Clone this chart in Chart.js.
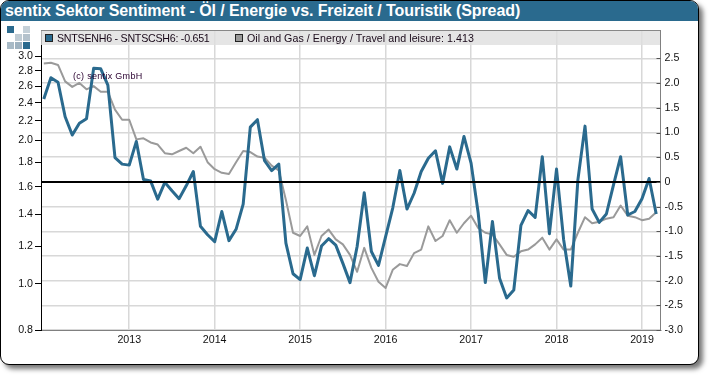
<!DOCTYPE html>
<html>
<head>
<meta charset="utf-8">
<title>sentix Sektor Sentiment</title>
<script src="https://cdn.jsdelivr.net/npm/chart.js@4"></script>
<style>
  html, body { margin: 0; padding: 0; background: #fff; }
  body { width: 710px; height: 376px; position: relative; overflow: hidden; font-family: "Liberation Sans", Arial, sans-serif; }
  #card {
    position: absolute; left: 0; top: 0; width: 696.5px; height: 362.5px;
    border: 1.5px solid #000; border-radius: 9px; background: #fff;
    box-shadow: 4px 4px 5px #777; overflow: hidden;
  }
  #head {
    height: 20px; line-height: 20px; background: #2a6a8e; color: #fff;
    font-weight: bold; font-size: 16px; padding-left: 4px; white-space: nowrap; letter-spacing: -0.09px;
  }
  canvas { position: absolute; left: 0; top: 0; display: block; }
  #legend {
    position: absolute; left: 41px; top: 30px; width: 619px; height: 14px;
    border-top: 1px solid #888; background: rgba(222, 222, 222, 0.8);
    font-size: 10.67px; line-height: 15px; color: #1a0a1a; white-space: nowrap;
  }
  #legend span { position: absolute; top: 0; }
  #legend i { position: absolute; top: 3px; width: 6px; height: 6px; border: 1px solid #222; }
  #mark { position: absolute; left: 73px; top: 71px; font-size: 9px; letter-spacing: 0.3px; color: #2a0030; white-space: pre; }
  .sq { position: absolute; width: 7px; height: 7px; }
</style>
</head>
<body>
<div id="card"><div id="head">sentix Sektor Sentiment - Öl / Energie vs. Freizeit / Touristik (Spread)</div></div>
<div class="sq" style="left:7px;top:26px;background:#2a6a8e"></div>
<div class="sq" style="left:23px;top:26px;background:#c4d0d8"></div>
<div class="sq" style="left:15px;top:34px;background:#c0ccd4"></div>
<div class="sq" style="left:23px;top:34px;background:#b4c2cc"></div>
<div class="sq" style="left:7px;top:42px;background:#a8bac6"></div>
<div class="sq" style="left:15px;top:42px;background:#9eb2c0"></div>
<div class="sq" style="left:23px;top:42px;background:#2a6a8e"></div>
<canvas id="chart" width="710" height="376"></canvas>
<div id="legend">
  <i style="left:4px;background:#2a6a8e"></i><span style="left:16px;letter-spacing:-0.25px">SNTSENH6 - SNTSCSH6: -0.651</span>
  <i style="left:194px;background:#999"></i><span style="left:206px;letter-spacing:0.05px">Oil and Gas / Energy / Travel and leisure: 1.413</span>
</div>
<div id="mark">(c) sentix GmbH</div>

<script>
// monthly readings, Jan 2012 to Mar 2019
const spread = [
  1.68, 2.11, 2.02, 1.32, 0.95, 1.19, 1.28, 2.30, 2.29, 1.96, 0.49, 0.36,
  0.34, 0.82, 0.05, 0.02, -0.35, -0.01, -0.18, -0.34, -0.08, 0.21, -0.90, -1.07,
  -1.21, -0.60, -1.19, -0.96, -0.45, 1.11, 1.26, 0.43, 0.23, 0.36, -1.24, -1.86,
  -1.98, -1.34, -1.90, -1.30, -1.15, -1.28, -1.65, -2.04, -1.31, -0.22, -1.41, -1.69,
  -1.11, -0.53, 0.23, -0.55, -0.23, 0.21, 0.48, 0.63, -0.03, 0.71, 0.26, 0.92,
  0.38, -0.63, -2.04, -0.80, -1.95, -2.35, -2.19, -0.88, -0.58, -0.72, 0.51, -1.05,
  0.26, -1.17, -2.11, 0.04, 1.13, -0.55, -0.82, -0.65, -0.06, 0.51, -0.67, -0.60,
  -0.34, 0.07, -0.651
];
const ratio = [
  2.90, 2.91, 2.88, 2.66, 2.59, 2.64, 2.56, 2.60, 2.53, 2.53, 2.32, 2.21,
  2.21, 2.01, 2.02, 1.98, 1.96, 1.88, 1.87, 1.90, 1.93, 1.88, 1.94, 1.80,
  1.74, 1.71, 1.70, 1.80, 1.90, 1.89, 1.85, 1.84, 1.77, 1.73, 1.50, 1.28,
  1.26, 1.32, 1.15, 1.26, 1.30, 1.24, 1.21, 1.15, 1.06, 1.19, 1.08, 1.01,
  0.98, 1.07, 1.10, 1.09, 1.16, 1.18, 1.32, 1.23, 1.26, 1.36, 1.28, 1.34,
  1.39, 1.31, 1.28, 1.27, 1.21, 1.15, 1.14, 1.17, 1.18, 1.21, 1.25, 1.18,
  1.24, 1.18, 1.18, 1.28, 1.38, 1.34, 1.35, 1.37, 1.38, 1.46, 1.39, 1.38,
  1.36, 1.37, 1.413
];
const yearTicks = [12, 24, 36, 48, 60, 72, 84];
const yearLabels = ['2013', '2014', '2015', '2016', '2017', '2018', '2019'];
const leftTicks = [0.8, 1.0, 1.2, 1.4, 1.6, 1.8, 2.0, 2.2, 2.4, 2.6, 2.8, 3.0];
const rightTicks = [-3, -2.5, -2, -1.5, -1, -0.5, 0, 0.5, 1, 1.5, 2, 2.5];

const xMin = -0.39, xMax = 86.6;
const zero = [{ x: xMin, y: 0 }, { x: xMax, y: 0 }];
const font = { family: '"Liberation Sans", Arial, sans-serif', size: 10.67 };

function setTicks(list) {
  return (scale) => { scale.ticks = list.map((v) => ({ value: v })); };
}

// the right axis has its tick marks on the inside
const innerTicks = {
  id: 'innerTicks',
  afterDraw(chart) {
    const { ctx, scales } = chart;
    const right = chart.chartArea.right;
    ctx.save();
    ctx.strokeStyle = '#555';
    ctx.lineWidth = 1;
    rightTicks.forEach((v) => {
      const y = Math.round(scales.y2.getPixelForValue(v)) + 0.5;
      ctx.beginPath();
      ctx.moveTo(right - 4, y);
      ctx.lineTo(right, y);
      ctx.stroke();
    });
    ctx.restore();
  },
};

new Chart(document.getElementById('chart').getContext('2d'), {
  type: 'line',
  plugins: [innerTicks],
  data: {
    datasets: [
      {
        label: 'zero',
        data: zero,
        yAxisID: 'y2',
        borderColor: '#000',
        borderWidth: 2,
        pointRadius: 0,
        order: 0,
      },
      {
        label: 'SNTSENH6 - SNTSCSH6',
        data: spread.map((v, i) => ({ x: i, y: v })),
        yAxisID: 'y2',
        borderColor: '#2a6a8e',
        borderWidth: 3,
        borderJoinStyle: 'round',
        pointRadius: 0,
        tension: 0,
        order: 1,
      },
      {
        label: 'Oil and Gas / Energy / Travel and leisure',
        data: ratio.map((v, i) => ({ x: i, y: v })),
        yAxisID: 'y',
        borderColor: '#9a9a9a',
        borderWidth: 2,
        borderJoinStyle: 'round',
        pointRadius: 0,
        tension: 0,
        order: 2,
      },
    ],
  },
  options: {
    responsive: false,
    animation: false,
    layout: { padding: { top: 30 } },
    plugins: { legend: { display: false }, title: { display: false }, tooltip: { enabled: false } },
    scales: {
      x: {
        type: 'linear',
        min: xMin,
        max: xMax,
        afterBuildTicks: setTicks(yearTicks),
        afterFit: (s) => { s.height = 46; },
        grid: { color: '#d8d8d8', lineWidth: 1.5, drawTicks: false },
        border: { color: '#808080' },
        ticks: {
          autoSkip: false,
          maxRotation: 0,
          padding: 4,
          color: '#111',
          font,
          callback: (v, i) => yearLabels[i],
        },
      },
      y: {
        type: 'logarithmic',
        position: 'left',
        min: 0.8,
        max: 3.41,
        afterBuildTicks: setTicks(leftTicks),
        afterFit: (s) => { s.width = 41; },
        grid: { drawOnChartArea: false, color: '#000', tickLength: 6 },
        border: { color: '#000' },
        ticks: {
          autoSkip: false,
          padding: 2,
          color: '#111',
          font,
          callback: (v) => v.toFixed(1),
        },
      },
      y2: {
        type: 'linear',
        position: 'right',
        min: -3,
        max: 3.077,
        afterBuildTicks: setTicks(rightTicks),
        afterFit: (s) => { s.width = 49.5; },
        grid: { color: '#d8d8d8', lineWidth: 1.5, drawTicks: false },
        border: { color: '#808080' },
        ticks: {
          autoSkip: false,
          padding: 4,
          color: '#111',
          font,
          callback: (v) => (v === 0 ? '0' : v.toFixed(1)),
        },
      },
    },
  },
});
</script>
</body>
</html>
